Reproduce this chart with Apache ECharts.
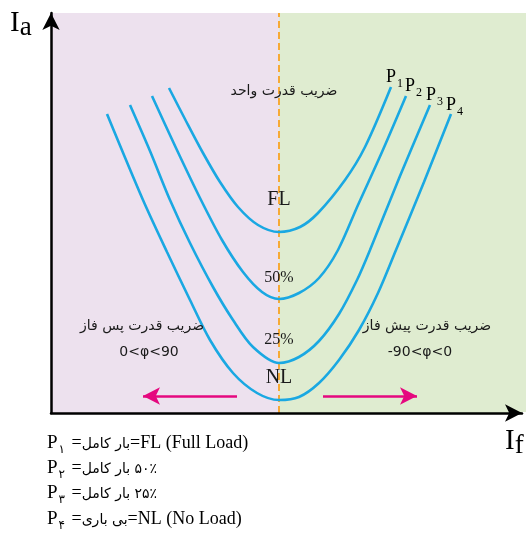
<!DOCTYPE html>
<html>
<head>
<meta charset="utf-8">
<script src="https://cdn.jsdelivr.net/npm/echarts@6/dist/echarts.min.js"></script>
<style>
  html, body { margin: 0; padding: 0; background: #fff; }
  #main { width: 526px; height: 537px; }
</style>
</head>
<body>
<div id="main"></div>
<script>
var myChart = echarts.init(document.getElementById('main'));

// V-curves, [If, Ia] in plot units
var curveFL = [[118, 325], [135, 292], [152, 260], [169, 231], [187, 206], [207, 188], [228, 181],
    [249, 186], [267, 200], [294, 233], [314, 266], [340, 326]];
var curve50 = [[101, 317], [125, 265], [149, 215], [171, 173], [192, 141], [211, 121], [228, 114],
    [248, 120], [268, 135], [287, 163], [307, 208], [331, 261], [355, 317]];
var curve25 = [[79, 308], [99, 262], [119, 213], [139, 170], [162, 126], [182, 93], [202, 66], [228, 50],
    [248, 56], [268, 72], [288, 99], [306, 133], [319, 163], [349, 237], [379, 308]];
var curveNL = [[56, 299], [92, 213], [116, 161], [139, 113], [159, 73], [182, 40], [206, 20], [228, 13],
    [248, 16], [268, 30], [288, 53], [308, 83], [327, 120], [345, 163], [373, 231], [400, 299]];

var unityPf = 228;          // cos(phi) = 1 line
var xMax = 471, yMax = 400;

var serif = "'Liberation Serif', 'DejaVu Serif', serif";
var fa = "'DejaVu Sans', sans-serif";
var blue = '#1aa8e2';
var lilac = '#ede1ee', green = '#dfecd0';

function curve(name, data) {
    return {
        name: name,
        type: 'line',
        data: data,
        smooth: 0.3,
        symbol: 'none',
        z: 5,
        silent: true,
        lineStyle: { color: blue, width: 2.6 }
    };
}

function axis(max) {
    return {
        type: 'value',
        min: 0,
        max: max,
        z: 20,
        axisLine: {
            show: true,
            onZero: false,
            symbol: ['none', 'arrow'],
            symbolSize: [13, 17],
            lineStyle: { color: '#000', width: 2.5 }
        },
        axisTick: { show: false },
        axisLabel: { show: false },
        splitLine: { show: false }
    };
}

var legendRich = {
    p: { fontSize: 19, fontFamily: serif, color: '#111', verticalAlign: 'bottom', padding: [0, 0, 4, 0] },
    s: { fontSize: 12, fontFamily: fa, color: '#111', verticalAlign: 'bottom', padding: [0, 2, 1, 1] },
    t: { fontSize: 18, fontFamily: serif, color: '#111', verticalAlign: 'bottom', padding: [0, 0, 4, 0] },
    f: { fontSize: 14, fontFamily: fa, color: '#111', verticalAlign: 'bottom', padding: [0, 0, 5, 0] }
};
var pRich = {
    p: { fontSize: 18, fontFamily: serif, color: '#111', verticalAlign: 'bottom', padding: [0, 0, 3, 0] },
    s: { fontSize: 12, fontFamily: serif, color: '#111', verticalAlign: 'bottom', padding: [0, 0, 0, 1] }
};
var axisRich = {
    i: { fontSize: 29, fontFamily: serif, color: '#111', verticalAlign: 'bottom', padding: [0, 0, 4, 0] },
    a: { fontSize: 27, fontFamily: serif, color: '#111', verticalAlign: 'bottom', padding: [0, 0, 0, 0] }
};

function txt(x, y, text, font, align) {
    return {
        type: 'text', x: x, y: y, z: 10, silent: true,
        style: {
            text: text, font: font, fill: '#1a1a1a',
            textAlign: align || 'center', textVerticalAlign: 'middle',
            align: align || 'center', verticalAlign: 'middle'
        }
    };
}
function rich(x, y, text, r, align) {
    return {
        type: 'text', x: x, y: y, z: 10, silent: true,
        style: {
            text: text, rich: r,
            textAlign: align || 'left', textVerticalAlign: 'middle',
            align: align || 'left', verticalAlign: 'middle'
        }
    };
}

option = {
    animation: false,
    backgroundColor: '#fff',
    grid: { left: 51, right: 4, top: 13, bottom: 124 },
    xAxis: axis(xMax),
    yAxis: axis(yMax),
    series: [
        {
            type: 'line',
            data: [[0, 0]],
            symbol: 'none',
            silent: true,
            z: 1,
            lineStyle: { opacity: 0 },
            markArea: {
                silent: true,
                data: [
                    [{ coord: [0, 0], itemStyle: { color: lilac } }, { coord: [unityPf, yMax] }],
                    [{ coord: [unityPf, 0], itemStyle: { color: green } }, { coord: [xMax, yMax] }]
                ]
            },
            markLine: {
                silent: true,
                symbol: 'none',
                label: { show: false },
                lineStyle: { color: '#f7a935', type: [7, 4], width: 2 },
                data: [{ xAxis: unityPf }]
            }
        },
        {
            type: 'line',
            data: [[0, 0]],
            symbol: 'none',
            silent: true,
            z: 6,
            lineStyle: { opacity: 0 },
            markLine: {
                silent: true,
                symbol: ['none', 'arrow'],
                symbolSize: [13, 17],
                label: { show: false },
                lineStyle: { color: '#e5087f', type: 'solid', width: 2.5 },
                data: [
                    [{ coord: [186, 17] }, { coord: [92, 17] }],
                    [{ coord: [272, 17] }, { coord: [366, 17] }]
                ]
            }
        },
        curve('FL', curveFL),
        curve('50%', curve50),
        curve('25%', curve25),
        curve('NL', curveNL)
    ],
    graphic: [
        // green field runs on past the arrow tip to the right edge
        { type: 'rect', z: -10, silent: true, shape: { x: 522, y: 13, width: 4, height: 399 }, style: { fill: green } },

        rich(10, 25, '{i|I}{a|a}', axisRich),
        rich(505, 443, '{i|I}{a|f}', axisRich),

        txt(279, 200, 'FL', '20px ' + serif),
        txt(279, 278, '50%', '16px ' + serif),
        txt(279, 340, '25%', '16px ' + serif),
        txt(279, 378, 'NL', '20px ' + serif),

        rich(386, 79, '{p|P}{s|1}', pRich),
        rich(405, 88, '{p|P}{s|2}', pRich),
        rich(426, 97, '{p|P}{s|3}', pRich),
        rich(446, 107, '{p|P}{s|4}', pRich),

        txt(284, 91, 'ضریب قدرت واحد', '14px ' + fa),
        txt(142, 326, 'ضریب قدرت پس فاز', '14px ' + fa),
        txt(149, 352, '0<φ<90', '14px ' + fa),
        txt(427, 326, 'ضریب قدرت پیش فاز', '14px ' + fa),
        txt(420, 352, '-90<φ<0', '14px ' + fa),

        rich(47, 445, '{p|P}{s|۱}{t| =}{f|بار کامل}{t|=FL (Full Load)}', legendRich),
        rich(47, 470, '{p|P}{s|۲}{t| =}{f|بار کامل}{f| ۵۰٪}', legendRich),
        rich(47, 495, '{p|P}{s|۳}{t| =}{f|بار کامل}{f| ۲۵٪}', legendRich),
        rich(47, 521, '{p|P}{s|۴}{t| =}{f|بی باری}{t|=NL (No Load)}', legendRich)
    ]
};

myChart.setOption(option);
</script>
</body>
</html>
